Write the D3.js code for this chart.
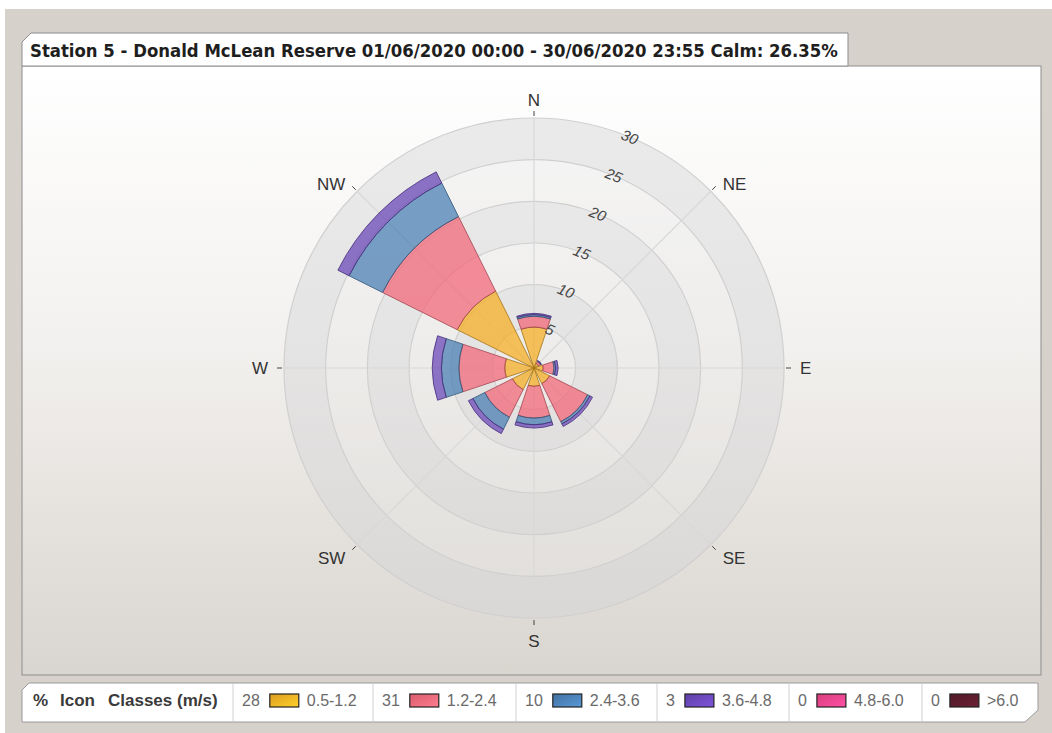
<!DOCTYPE html>
<html>
<head>
<meta charset="utf-8">
<script src="https://cdn.jsdelivr.net/npm/d3@7"></script>
<style>
    body { margin: 0; background: #ffffff; }
    svg { display: block; }
</style>
</head>
<body>
<svg id="rose" width="1052" height="733"></svg>
<script>
(function () {
    'use strict';

    // chart data (percent of time)
    var titleText = "Station 5 - Donald McLean Reserve 01/06/2020 00:00 - 30/06/2020 23:55 Calm: 26.35%";
    var directions = ["N", "NE", "E", "SE", "S", "SW", "W", "NW"];
    var dirAngles = [0, 45, 90, 135, 180, 225, 270, 315];
    var classLabels = ["0.5-1.2", "1.2-2.4", "2.4-3.6", "3.6-4.8", "4.8-6.0", ">6.0"];
    var classPercent = [28, 31, 10, 3, 0, 0];
    var classColours = ["#f5ae24", "#f26878", "#4a7fb4", "#6a47b8", "#f0448a", "#5a1c2c"];
    var speed05to12 = [4.9, 0.6, 1.1, 2.1, 2.2, 2.9, 3.5, 10.3];
    var speed12to24 = [1.3, 0.3, 1.3, 5.1, 3.8, 3.7, 5.5, 10.0];
    var speed24to36 = [0.2, 0.05, 0.2, 0.3, 0.8, 1.6, 2.1, 4.5];
    var speed36to48 = [0.15, 0.05, 0.3, 0.35, 0.4, 0.6, 1.1, 1.5];
    var speed48to60 = [0, 0, 0, 0, 0, 0, 0, 0];
    var speedOver60 = [0, 0, 0, 0, 0, 0, 0, 0];
    var ringTicks = [5, 10, 15, 20, 25, 30];

    var series = [speed05to12, speed12to24, speed24to36, speed36to48, speed48to60, speedOver60];

    var svg = d3.select("#rose"),
        cx = 534,
        cy = 368,
        outerR = 250,
        halfWidth = 18.5,
        rad = Math.PI / 180;

    var defs = svg.append("defs");

    // page + panel background
    svg.append("rect").attr("x", 5).attr("y", 9).attr("width", 1047).attr("height", 724)
        .attr("fill", "#d6d1cb");

    var panelGrad = defs.append("linearGradient").attr("id", "panelGrad")
        .attr("x1", 0).attr("y1", 0).attr("x2", 0).attr("y2", 1);
    panelGrad.append("stop").attr("offset", "0%").attr("stop-color", "#ffffff");
    panelGrad.append("stop").attr("offset", "45%").attr("stop-color", "#f3f1ef");
    panelGrad.append("stop").attr("offset", "100%").attr("stop-color", "#d9d5cf");

    svg.append("rect").attr("x", 22).attr("y", 66).attr("width", 1019).attr("height", 609)
        .attr("fill", "url(#panelGrad)")
        .attr("stroke", "#8d8d8d");

    // title tab
    svg.append("path")
        .attr("d", "M22,42 L31,33 L848,33 L848,66 L22,66 Z")
        .attr("fill", "#ffffff")
        .attr("stroke", "#8d8d8d");

    var title = svg.append("text")
        .attr("x", 30).attr("y", 57)
        .attr("font-family", "'DejaVu Sans Condensed', 'DejaVu Sans', sans-serif")
        .attr("font-weight", "bold")
        .attr("font-size", 16)
        .attr("fill", "#1e1e1e")
        .text(titleText);
    var tw = title.node().getComputedTextLength();
    title.attr("font-size", 16 * 808 / tw);

    // polar grid
    var r = d3.scaleLinear().domain([0, 30]).range([0, outerR]);
    var grid = svg.append("g").attr("transform", "translate(" + cx + "," + cy + ")");

    var bandArc = d3.arc()
        .innerRadius(function (d) { return r(d - 5); })
        .outerRadius(function (d) { return r(d); })
        .startAngle(0)
        .endAngle(2 * Math.PI);

    grid.selectAll("path.band")
        .data(ringTicks)
        .enter()
        .append("path")
        .attr("class", "band")
        .attr("d", bandArc)
        .attr("fill", function (d, i) { return i % 2 === 1 ? "#d4d4d8" : "#e6e6e6"; })
        .attr("fill-opacity", function (d, i) { return i % 2 === 1 ? 0.45 : 0.3; });

    grid.selectAll("circle.ring")
        .data(ringTicks)
        .enter()
        .append("circle")
        .attr("class", "ring")
        .attr("r", function (d) { return r(d); })
        .attr("fill", "none")
        .attr("stroke", "#d0d0d0")
        .attr("stroke-width", 1.2);

    grid.selectAll("line.spoke")
        .data(dirAngles)
        .enter()
        .append("line")
        .attr("class", "spoke")
        .attr("x1", 0).attr("y1", 0)
        .attr("x2", function (d) { return outerR * Math.sin(d * rad); })
        .attr("y2", function (d) { return -outerR * Math.cos(d * rad); })
        .attr("stroke", "#d8d8d8")
        .attr("stroke-width", 1.2);

    grid.selectAll("line.tick")
        .data(dirAngles)
        .enter()
        .append("line")
        .attr("class", "tick")
        .attr("x1", function (d) { return (outerR + 2) * Math.sin(d * rad); })
        .attr("y1", function (d) { return -(outerR + 2) * Math.cos(d * rad); })
        .attr("x2", function (d) { return (outerR + 7) * Math.sin(d * rad); })
        .attr("y2", function (d) { return -(outerR + 7) * Math.cos(d * rad); })
        .attr("stroke", "#444")
        .attr("stroke-width", 1);

    grid.selectAll("text.dir")
        .data(directions)
        .enter()
        .append("text")
        .attr("class", "dir")
        .attr("x", function (d, i) {
            var s = Math.sin(dirAngles[i] * rad);
            return (outerR + 14) * s + (s > 0.1 ? 2 : s < -0.1 ? -2 : 0);
        })
        .attr("y", function (d, i) {
            var s = Math.sin(dirAngles[i] * rad),
                c = Math.cos(dirAngles[i] * rad),
                shift = (c < -0.9 || (c > 0.5 && Math.abs(s) > 0.5)) ? 5 : 0;
            return -(outerR + 18) * c + shift;
        })
        .attr("dy", "0.36em")
        .attr("text-anchor", function (d, i) {
            var s = Math.sin(dirAngles[i] * rad);
            return s > 0.1 ? "start" : s < -0.1 ? "end" : "middle";
        })
        .attr("font-family", "'Liberation Sans', Arial, sans-serif")
        .attr("font-size", 17)
        .attr("fill", "#333")
        .text(function (d) { return d; });

    // stacked sectors
    var rows = directions.map(function (d, i) {
        var row = { dir: d, angle: dirAngles[i] };
        classLabels.forEach(function (c, k) { row[c] = series[k][i]; });
        return row;
    });
    var stacked = d3.stack().keys(classLabels)(rows);

    var arc = d3.arc()
        .innerRadius(function (d) { return r(d[0]); })
        .outerRadius(function (d) { return r(d[1]); })
        .startAngle(function (d) { return (d.data.angle - halfWidth) * rad; })
        .endAngle(function (d) { return (d.data.angle + halfWidth) * rad; });

    grid.selectAll("g.layer")
        .data(stacked)
        .enter()
        .append("g")
        .attr("class", "layer")
        .each(function (layer, k) {
            d3.select(this).selectAll("path")
                .data(layer.filter(function (d) { return d[1] - d[0] > 0; }))
                .enter()
                .append("path")
                .attr("d", arc)
                .attr("fill", classColours[k])
                .attr("fill-opacity", 0.74)
                .attr("stroke", d3.color(classColours[k]).darker(1.1))
                .attr("stroke-opacity", 0.8)
                .attr("stroke-width", 1);
        });

    // ring labels along 22.5 degrees
    grid.selectAll("text.ring")
        .data(ringTicks)
        .enter()
        .append("text")
        .attr("class", "ring")
        .attr("transform", function (d) {
            var x = r(d) * Math.sin(22.5 * rad),
                y = -r(d) * Math.cos(22.5 * rad);
            return "translate(" + x + "," + y + ") rotate(22.5)";
        })
        .attr("text-anchor", "middle")
        .attr("dy", "0.35em")
        .attr("font-family", "'Liberation Sans', Arial, sans-serif")
        .attr("font-style", "italic")
        .attr("font-size", 15)
        .attr("fill", "#444")
        .text(function (d) { return d; });

    // legend bar
    svg.append("path")
        .attr("d", "M22,690 L29,683 L1038,683 L1038,710 L1025,722 L22,722 Z")
        .attr("fill", "#ffffff")
        .attr("stroke", "#9a9a9a");

    var legendY = 706,
        legendFont = "'Liberation Sans', Arial, sans-serif";

    var header = [["%", 33], ["Icon", 60], ["Classes (m/s)", 108]];
    svg.selectAll("text.head")
        .data(header)
        .enter()
        .append("text")
        .attr("class", "head")
        .attr("x", function (d) { return d[1]; })
        .attr("y", legendY)
        .attr("font-family", legendFont)
        .attr("font-weight", "bold")
        .attr("font-size", 17)
        .attr("fill", "#3a3a3a")
        .text(function (d) { return d[0]; });

    var cellStarts = [233, 373, 516, 657, 789, 922];

    svg.selectAll("line.sep")
        .data(cellStarts)
        .enter()
        .append("line")
        .attr("class", "sep")
        .attr("x1", function (d) { return d; })
        .attr("x2", function (d) { return d; })
        .attr("y1", 684).attr("y2", 721)
        .attr("stroke", "#d0d0d0");

    classLabels.forEach(function (c, k) {
        var g = svg.append("g"),
            x0 = cellStarts[k] + 9;

        var grad = defs.append("linearGradient").attr("id", "sw" + k)
            .attr("x1", 0).attr("y1", 0).attr("x2", 1).attr("y2", 1);
        grad.append("stop").attr("offset", "0%").attr("stop-color", d3.color(classColours[k]).darker(0.3));
        grad.append("stop").attr("offset", "100%").attr("stop-color", d3.color(classColours[k]).brighter(0.5));

        var num = g.append("text")
            .attr("x", x0).attr("y", legendY)
            .attr("font-family", legendFont)
            .attr("font-size", 16)
            .attr("fill", "#6a6a6a")
            .text(classPercent[k]);
        var sx = x0 + num.node().getComputedTextLength() + 10;

        g.append("rect")
            .attr("x", sx).attr("y", 694)
            .attr("width", 29).attr("height", 13)
            .attr("fill", "url(#sw" + k + ")")
            .attr("stroke", "#222")
            .attr("stroke-width", 1.2);

        g.append("text")
            .attr("x", sx + 37).attr("y", legendY)
            .attr("font-family", legendFont)
            .attr("font-size", 16)
            .attr("fill", "#6a6a6a")
            .text(c);
    });
})();
</script>
</body>
</html>
